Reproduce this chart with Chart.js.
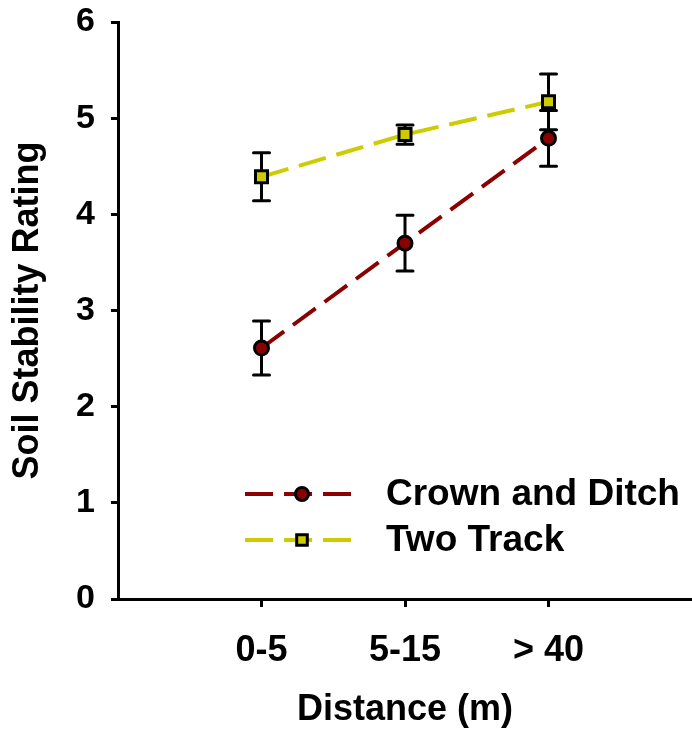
<!DOCTYPE html>
<html>
<head>
<meta charset="utf-8">
<script src="https://cdn.jsdelivr.net/npm/chart.js@4.4.1/dist/chart.umd.min.js"></script>
<style>
  html, body { margin: 0; padding: 0; background: #fff; }
</style>
</head>
<body>
<canvas id="chart" width="692" height="732"></canvas>
<script>
// soil stability by distance from road
const distances = ['0-5', '5-15', '> 40'];
const crownDitch = [2.61, 3.70, 4.79];
const crownDitchErr = [0.28, 0.29, 0.29];
const twoTrack = [4.39, 4.83, 5.17];
const twoTrackErr = [0.25, 0.10, 0.29];
const yTicks = [0, 1, 2, 3, 4, 5, 6];

const RED = '#8B0000';
const YELLOW = '#CCCC00';
const FONT = '"Liberation Sans", Arial, Helvetica, sans-serif';

Chart.defaults.font.family = FONT;
Chart.defaults.font.weight = 'bold';
Chart.defaults.color = '#000';

const toPoints = (vals) => vals.map((v, i) => ({ x: i + 1, y: v }));

// vertical error bars with caps, drawn under the markers
const errorBars = {
  id: 'errorBars',
  beforeDatasetsDraw(chart) {
    const ctx = chart.ctx;
    const xs = chart.scales.x;
    const ys = chart.scales.y;
    chart.data.datasets.forEach((ds) => {
      ds.errors.forEach((e, i) => {
        const px = xs.getPixelForValue(ds.data[i].x);
        const top = ys.getPixelForValue(ds.data[i].y + e);
        const bot = ys.getPixelForValue(ds.data[i].y - e);
        ctx.save();
        ctx.strokeStyle = '#000';
        ctx.lineWidth = 3;
        ctx.lineCap = 'round';
        ctx.beginPath();
        ctx.moveTo(px, top);
        ctx.lineTo(px, bot);
        ctx.moveTo(px - 8, top);
        ctx.lineTo(px + 8, top);
        ctx.moveTo(px - 8, bot);
        ctx.lineTo(px + 8, bot);
        ctx.stroke();
        ctx.restore();
      });
    });
  }
};

// legend inside the plot, lower right
const insideLegend = {
  id: 'insideLegend',
  afterDraw(chart) {
    const ctx = chart.ctx;
    const x0 = 245, x1 = 351, rows = [494, 540];
    chart.data.datasets.forEach((ds, k) => {
      const y = rows[k];
      ctx.save();
      ctx.strokeStyle = ds.borderColor;
      ctx.lineWidth = ds.borderWidth;
      ctx.setLineDash(ds.borderDash);
      ctx.beginPath();
      ctx.moveTo(x0, y);
      ctx.lineTo(x1, y);
      ctx.stroke();
      ctx.setLineDash([]);
      ctx.fillStyle = ds.pointBackgroundColor;
      ctx.strokeStyle = ds.pointBorderColor;
      ctx.lineWidth = ds.pointBorderWidth;
      Chart.helpers.drawPoint(ctx, {
        pointStyle: ds.pointStyle,
        radius: ds.pointStyle === 'rect' ? 7.5 : 6.5,
        rotation: 0,
        borderWidth: ds.pointBorderWidth
      }, 302, y);
      ctx.fillStyle = '#000';
      ctx.font = 'bold 37px ' + FONT;
      ctx.textBaseline = 'middle';
      ctx.textAlign = 'left';
      ctx.fillText(ds.label, 386, y + 1);
      ctx.restore();
    });
  }
};

new Chart(document.getElementById('chart'), {
  type: 'line',
  data: {
    datasets: [
      {
        label: 'Crown and Ditch',
        data: toPoints(crownDitch),
        errors: crownDitchErr,
        borderColor: RED,
        borderWidth: 4,
        borderDash: [28, 11],
        pointStyle: 'circle',
        pointRadius: 7,
        pointBorderWidth: 3,
        pointBorderColor: '#000',
        pointBackgroundColor: RED,
        tension: 0
      },
      {
        label: 'Two Track',
        data: toPoints(twoTrack),
        errors: twoTrackErr,
        borderColor: YELLOW,
        borderWidth: 4,
        borderDash: [28, 11],
        pointStyle: 'rect',
        pointRadius: 8.5,
        pointBorderWidth: 3,
        pointBorderColor: '#000',
        pointBackgroundColor: YELLOW,
        tension: 0
      }
    ]
  },
  options: {
    responsive: false,
    animation: false,
    layout: { autoPadding: false, padding: { top: 22, right: 0, left: 0, bottom: 0 } },
    plugins: {
      legend: { display: false },
      tooltip: { enabled: false }
    },
    scales: {
      x: {
        type: 'linear',
        min: 0,
        max: distances.length + 1,
        afterBuildTicks: (scale) => {
          scale.ticks = distances.map((_, i) => ({ value: i + 1 }));
        },
        afterFit: (scale) => {
          scale.height = 133;
          scale.paddingLeft = 0;
          scale.paddingRight = 0;
        },
        ticks: {
          autoSkip: false,
          maxRotation: 0,
          padding: 22,
          font: { size: 36, weight: 'bold' },
          callback: (v) => distances[v - 1]
        },
        grid: {
          drawOnChartArea: false,
          drawTicks: true,
          tickLength: 8,
          tickWidth: 3,
          tickColor: '#000'
        },
        border: { display: true, color: '#000', width: 3 },
        title: {
          display: true,
          text: 'Distance (m)',
          font: { size: 36, weight: 'bold', lineHeight: 1 },
          padding: { top: 0, bottom: 4 }
        }
      },
      y: {
        min: 0,
        max: 6,
        afterBuildTicks: (scale) => {
          scale.ticks = yTicks.map((v) => ({ value: v }));
        },
        afterFit: (scale) => {
          scale.width = 118;
          scale.paddingTop = 0;
          scale.paddingBottom = 0;
        },
        ticks: {
          padding: 16,
          font: { size: 34, weight: 'bold' }
        },
        grid: {
          drawOnChartArea: false,
          drawTicks: true,
          tickLength: 7,
          tickWidth: 3,
          tickColor: '#000'
        },
        border: { display: true, color: '#000', width: 3 },
        title: {
          display: true,
          text: 'Soil Stability Rating',
          font: { size: 36, weight: 'bold', lineHeight: 1 },
          padding: { top: 10, bottom: 0 }
        }
      }
    }
  },
  plugins: [errorBars, insideLegend]
});
</script>
</body>
</html>
